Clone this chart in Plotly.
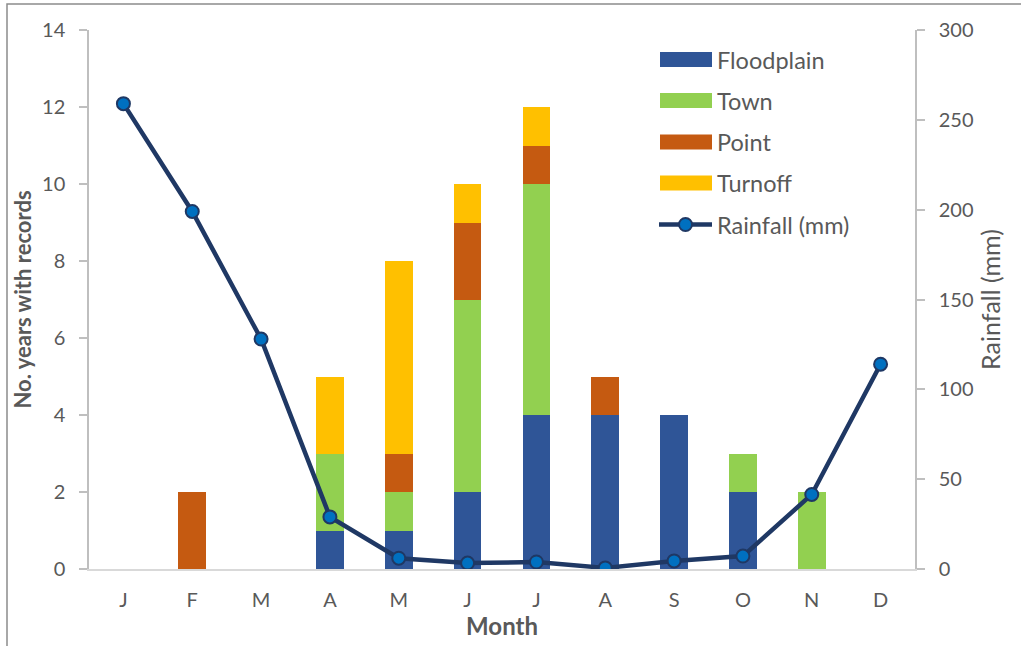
import plotly.graph_objects as go

months = ["J", "F", "M", "A", "M", "J", "J", "A", "S", "O", "N", "D"]
floodplain = [0, 0, 0, 1, 1, 2, 4, 4, 4, 2, 0, 0]
town = [0, 0, 0, 2, 1, 5, 6, 0, 0, 1, 2, 0]
point = [0, 2, 0, 0, 1, 2, 1, 1, 0, 0, 0, 0]
turnoff = [0, 0, 0, 2, 5, 1, 1, 0, 0, 0, 0, 0]
rainfall = [259, 199, 128, 29, 6, 3.3, 3.9, 0.6, 4.5, 7.2, 41.5, 114]

series = [
    ("Floodplain", floodplain, "#2F5597"),
    ("Town", town, "#92D050"),
    ("Point", point, "#C55A11"),
    ("Turnoff", turnoff, "#FFC000"),
]

FONT = "Lato"
TXT = "#595959"
xs = list(range(len(months)))

fig = go.Figure()
for name, vals, col in series:
    fig.add_trace(go.Bar(x=xs, y=vals, name=name, marker=dict(color=col, line=dict(width=0)),
                         yaxis="y"))
fig.add_trace(go.Scatter(x=xs, y=rainfall, name="Rainfall (mm)", yaxis="y2", mode="lines+markers",
                         line=dict(color="#1F3864", width=4.5),
                         marker=dict(size=13, color="#0070C0", line=dict(color="#1F3864", width=2))))

# custom legend
shapes = []
annotations = []
legend_x0, legend_x1 = 660, 712
legend_y = [59.5, 100.5, 142, 183, 224.5]
W, H = 1021, 646
L, R, T, B = 89, 106, 30, 77
pw, ph = W - L - R, H - T - B
def px(x):
    return (x - L) / pw
def py(y):
    return (H - B - y) / ph

for i, (name, vals, col) in enumerate(series):
    yc = legend_y[i]
    shapes.append(dict(type="rect", xref="paper", yref="paper", x0=px(legend_x0), x1=px(legend_x1),
                       y0=py(yc + 7.5), y1=py(yc - 7.5), fillcolor=col, line=dict(width=0)))
    annotations.append(dict(xref="paper", yref="paper", x=px(715), y=py(yc), text=name, showarrow=False,
                            xanchor="left", yanchor="middle", font=dict(family=FONT, size=23.5, color=TXT)))
yc = legend_y[4]
shapes.append(dict(type="line", xref="paper", yref="paper", x0=px(659), x1=px(712), y0=py(yc), y1=py(yc),
                   line=dict(color="#1F3864", width=4.5)))
shapes.append(dict(type="circle", xref="paper", yref="paper", x0=px(679), x1=px(692), y0=py(yc + 6.5),
                   y1=py(yc - 6.5), fillcolor="#0070C0", line=dict(color="#1F3864", width=2)))
annotations.append(dict(xref="paper", yref="paper", x=px(715), y=py(yc), text="Rainfall (mm)", showarrow=False,
                        xanchor="left", yanchor="middle", font=dict(family=FONT, size=23.5, color=TXT)))
# outer frame
shapes.append(dict(type="rect", xref="paper", yref="paper", x0=px(7), x1=px(1060), y0=py(700), y1=py(4),
                   line=dict(color="#8C8C8C", width=1.5), fillcolor="rgba(0,0,0,0)", layer="below"))

fig.update_layout(
    width=W, height=H,
    margin=dict(l=L, r=R, t=T, b=B, autoexpand=False),
    barmode="stack", bargap=0.6,
    plot_bgcolor="white", paper_bgcolor="white",
    showlegend=False,
    font=dict(family=FONT, color=TXT, size=20),
    xaxis=dict(range=[-0.5, 11.5], tickvals=xs, ticktext=months, showgrid=False, zeroline=False,
               automargin=False,
               showline=True, linecolor="#D9D9D9", linewidth=1.5, ticks="", ticklabelstandoff=12,
               tickfont=dict(size=20, color=TXT),
               title=dict(text="<b>Month</b>", font=dict(size=24, color=TXT), standoff=6)),
    yaxis=dict(range=[0, 14], dtick=2, showgrid=False, zeroline=False, showline=True, linecolor="#BFBFBF",
               automargin=False,
               linewidth=1.5, ticks="outside", ticklen=8, tickcolor="#BFBFBF", tickwidth=1.5,
               tickfont=dict(size=20, color=TXT), ticklabelstandoff=10,
               title=dict(text="<b>No. years with records</b>", font=dict(size=22, color=TXT), standoff=4)),
    yaxis2=dict(range=[0, 300], dtick=50, overlaying="y", side="right", showgrid=False, zeroline=False,
                automargin=False,
                showline=True, linecolor="#BFBFBF", linewidth=1.5, ticks="outside", ticklen=8,
                tickcolor="#BFBFBF", tickwidth=1.5, tickfont=dict(size=20, color=TXT), ticklabelstandoff=10,
                title=dict(text="Rainfall (mm)", font=dict(size=25, color=TXT), standoff=10)),
    shapes=shapes, annotations=annotations,
)

fig.write_html("out.html")
